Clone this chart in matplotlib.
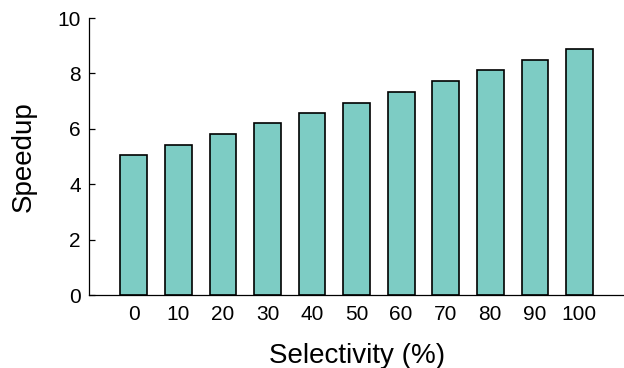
import numpy as np
import matplotlib
matplotlib.use('Agg')
import matplotlib.pyplot as plt

plt.rcParams['font.family'] = ['Liberation Sans', 'DejaVu Sans']

# ── Data ──────────────────────────────────────────────────────────────────────
selectivity = ['0', '10', '20', '30', '40', '50', '60', '70', '80', '90', '100']
speedup = [5.05, 5.43, 5.81, 6.2, 6.57, 6.95, 7.34, 7.73, 8.11, 8.48, 8.88]
y_ticks = [0, 2, 4, 6, 8, 10]

BAR_COLOR = '#7dccc4'

# ── Plot ──────────────────────────────────────────────────────────────────────
fig = plt.figure(figsize=(6.24, 3.68), dpi=100)
ax = fig.add_axes([0.143, 0.198, 0.857, 0.753])

x = np.arange(len(selectivity))
ax.bar(x, speedup, width=0.6, color=BAR_COLOR, edgecolor='black', linewidth=1.2)

ax.set_xlim(-1, 11)
ax.set_ylim(0, 10)
ax.set_xticks(x)
ax.set_xticklabels(selectivity)
ax.set_yticks(y_ticks)

for s in ['top', 'right']:
    ax.spines[s].set_visible(False)
for s in ['left', 'bottom']:
    ax.spines[s].set_linewidth(0.9)

ax.tick_params(axis='x', length=0, labelsize=15, pad=7)
ax.tick_params(axis='y', direction='in', length=4, width=0.9, labelsize=15, pad=6)

ax.set_xlabel('Selectivity (%)', fontsize=20, labelpad=14)
ax.set_ylabel('Speedup', fontsize=20, labelpad=15)

fig.savefig('out.png', dpi=100)
